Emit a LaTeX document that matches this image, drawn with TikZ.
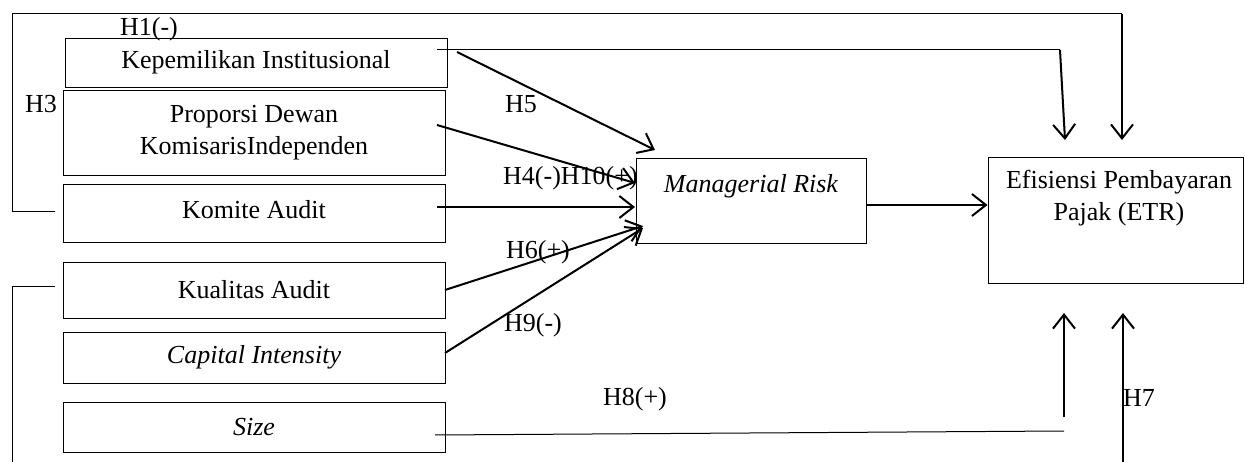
\documentclass[tikz,border=0pt]{standalone}
\usepackage{fontspec}
\setmainfont{Liberation Serif}
\usetikzlibrary{arrows.meta}
\begin{document}
\begin{tikzpicture}[x=1pt,y=-1pt,
  every node/.style={font=\fontsize{26}{32}\selectfont},
  box/.style={draw, line width=0.9pt, inner sep=0pt, align=center, fill=white},
  thinline/.style={line width=1pt},
  arr/.style={line width=2pt, -{Straight Barb[length=14pt,width=22pt,line width=2pt]}},
  lab/.style={inner sep=0pt}]
\useasboundingbox (0,0) rectangle (1245,462);
\clip (0,0) rectangle (1245,462);

% labels that may be overlapped
\node[lab, anchor=west] (h4) at (503,178) {H4(-)H10(+)};

% left column boxes
\node[box, minimum width=382pt, minimum height=49pt] (kep) at (256,62.5) {Kepemilikan Institusional};
\node[box, minimum width=382pt, minimum height=85pt] (prop) at (254,132.5) {Proporsi Dewan\\KomisarisIndependen};
\node[box, minimum width=382pt, minimum height=58pt] (kom) at (254,213) {};
\node (komt) at (254,210) {Komite Audit};
\node[box, minimum width=382pt, minimum height=56pt] (kua) at (254,290) {Kualitas Audit};
\node[box, minimum width=382pt, minimum height=51pt] (cap) at (254,357.5) {\itshape Capital Intensity};
\node[box, minimum width=382pt, minimum height=50pt] (size) at (254,427) {\itshape Size};

% middle and right boxes
\node[box, minimum width=230pt, minimum height=85pt] (mr) at (751,200.5) {};
\node (mrt) at (751,186) {\itshape Managerial Risk};
\node[box, minimum width=255pt, minimum height=126pt] (etr) at (1115.5,220) {};
\node[align=center] (etrt) at (1119,198) {Efisiensi Pembayaran\\Pajak (ETR)};

% coordinates
\coordinate (a1) at (55,212);
\coordinate (a2) at (12,212);
\coordinate (a3) at (12,14);
\coordinate (a4) at (1122,14);
\coordinate (a5) at (1122,140);
\coordinate (b1) at (437,50);
\coordinate (b2) at (1060,50);
\coordinate (b3) at (1065,140);
\coordinate (c1) at (435,435);
\coordinate (c2) at (1064,431);
\coordinate (c3) at (1064,417);
\coordinate (c4) at (1064,313);
\coordinate (d1) at (55,287);
\coordinate (d2) at (12,287);
\coordinate (d3) at (12,480);
\coordinate (d4) at (1123,480);
\coordinate (d5) at (1123,313);

% bracket connectors to ETR
\draw[thinline] (a1) -- (a2) -- (a3) -- (a4);
\draw[arr] (a4) -- (a5);
\draw[thinline] (b1) -- (b2);
\draw[arr] (b2) -- (b3);
\draw[thinline] (c1) -- (c2);
\draw[arr] (c3) -- (c4);
\draw[thinline] (d1) -- (d2) -- (d3) -- (d4);
\draw[arr] (d4) -- (d5);

% arrows into Managerial Risk
\coordinate (e1) at (457,52);
\coordinate (e2) at (655,150);
\coordinate (f1) at (437,125);
\coordinate (f2) at (635,183);
\coordinate (g1) at (437,207);
\coordinate (g2) at (635,207);
\coordinate (k1) at (445,290);
\coordinate (k2) at (643,226);
\coordinate (m1) at (445,353);
\coordinate (m2) at (643,228);
\draw[arr] (e1) -- (e2);
\draw[arr] (f1) -- (f2);
\draw[arr] (g1) -- (g2);
\draw[arr] (k1) -- (k2);
\draw[arr] (m1) -- (m2);

% MR to ETR
\draw[arr] (mr.east |- 0,205) -- (etr.west |- 0,205);

% labels
\node[lab] (h1) at (149,29) {H1(-)};
\node[lab] (h3) at (41,104) {H3};
\node[lab] (h5) at (521,104) {H5};
\node[lab] (h6) at (538,252) {H6(+)};
\node[lab] (h9) at (533,325) {H9(-)};
\node[lab] (h8) at (635,399) {H8(+)};
\node[lab, anchor=west] (h7) at (1123,398) {H7};
\end{tikzpicture}
\end{document}
